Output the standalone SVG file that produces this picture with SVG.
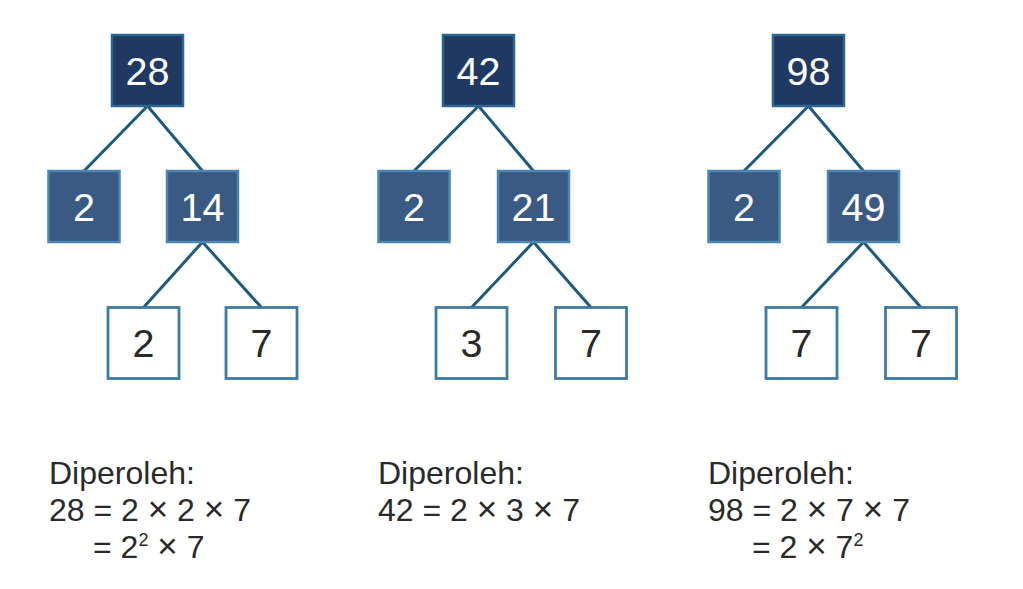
<svg xmlns="http://www.w3.org/2000/svg" width="1023" height="589" viewBox="0 0 1023 589">
<style>
.root{fill:#1f3963;stroke:#2b6790;stroke-width:2.5}
.mid{fill:#3a5a84;stroke:#4a87b1;stroke-width:2.5}
.leaf{fill:#ffffff;stroke:#3c7aa7;stroke-width:2.8}
.num{font-family:"Liberation Sans",Arial,sans-serif;font-size:39.5px;text-anchor:middle}
.w{fill:#ffffff}
.d{fill:#2a2a2a}
.conn line{stroke:#1d5a7e;stroke-width:3;stroke-linecap:round}
.txt{font-family:"Liberation Sans",Arial,sans-serif;font-size:32px;fill:#2a2a2a}
.sup{font-size:18px}
.x{font-size:35px}
</style>
<rect width="1023" height="589" fill="#ffffff"/>
<g id="connectors" class="conn">
<line x1="147.5" y1="106" x2="84" y2="171"/>
<line x1="147.5" y1="106" x2="202.5" y2="171"/>
<line x1="202.5" y1="242" x2="143.5" y2="307.5"/>
<line x1="202.5" y1="242" x2="261.5" y2="307.5"/>
<line x1="478.5" y1="106" x2="414" y2="171"/>
<line x1="478.5" y1="106" x2="533.5" y2="171"/>
<line x1="533.5" y1="242" x2="471.5" y2="307.5"/>
<line x1="533.5" y1="242" x2="591" y2="307.5"/>
<line x1="808.5" y1="106" x2="744" y2="171"/>
<line x1="808.5" y1="106" x2="863.5" y2="171"/>
<line x1="863.5" y1="242" x2="801.5" y2="307.5"/>
<line x1="863.5" y1="242" x2="921" y2="307.5"/>
</g>
<g id="t1-root"><rect class="root" x="112" y="35" width="71" height="71"/><text class="num w" x="147.5" y="84.5">28</text></g>
<g id="t1-a"><rect class="mid" x="48.5" y="171" width="71" height="71"/><text class="num w" x="84" y="220.5">2</text></g>
<g id="t1-b"><rect class="mid" x="167" y="171" width="71" height="71"/><text class="num w" x="202.5" y="220.5">14</text></g>
<g id="t1-c"><rect class="leaf" x="108" y="307.5" width="71" height="71"/><text class="num d" x="143.5" y="357">2</text></g>
<g id="t1-d"><rect class="leaf" x="226" y="307.5" width="71" height="71"/><text class="num d" x="261.5" y="357">7</text></g>

<g id="t2-root"><rect class="root" x="443" y="35" width="71" height="71"/><text class="num w" x="478.5" y="84.5">42</text></g>
<g id="t2-a"><rect class="mid" x="378.5" y="171" width="71" height="71"/><text class="num w" x="414" y="220.5">2</text></g>
<g id="t2-b"><rect class="mid" x="498" y="171" width="71" height="71"/><text class="num w" x="533.5" y="220.5">21</text></g>
<g id="t2-c"><rect class="leaf" x="436" y="307.5" width="71" height="71"/><text class="num d" x="471.5" y="357">3</text></g>
<g id="t2-d"><rect class="leaf" x="555.5" y="307.5" width="71" height="71"/><text class="num d" x="591" y="357">7</text></g>

<g id="t3-root"><rect class="root" x="773" y="35" width="71" height="71"/><text class="num w" x="808.5" y="84.5">98</text></g>
<g id="t3-a"><rect class="mid" x="708.5" y="171" width="71" height="71"/><text class="num w" x="744" y="220.5">2</text></g>
<g id="t3-b"><rect class="mid" x="828" y="171" width="71" height="71"/><text class="num w" x="863.5" y="220.5">49</text></g>
<g id="t3-c"><rect class="leaf" x="766" y="307.5" width="71" height="71"/><text class="num d" x="801.5" y="357">7</text></g>
<g id="t3-d"><rect class="leaf" x="885.5" y="307.5" width="71" height="71"/><text class="num d" x="921" y="357">7</text></g>

<g id="caption-1" class="txt">
<text x="49" y="484">Diperoleh:</text>
<text x="49" y="521">28 = 2 <tspan class="x">×</tspan> 2 <tspan class="x">×</tspan> 7</text>
<text x="93" y="558">= 2<tspan class="sup" dy="-12">2</tspan><tspan dy="12"> <tspan class="x">×</tspan> 7</tspan></text>
</g>
<g id="caption-2" class="txt">
<text x="378" y="484">Diperoleh:</text>
<text x="378" y="521">42 = 2 <tspan class="x">×</tspan> 3 <tspan class="x">×</tspan> 7</text>
</g>
<g id="caption-3" class="txt">
<text x="708" y="484">Diperoleh:</text>
<text x="708" y="521">98 = 2 <tspan class="x">×</tspan> 7 <tspan class="x">×</tspan> 7</text>
<text x="752" y="558">= 2 <tspan class="x">×</tspan> 7<tspan class="sup" dy="-12">2</tspan></text>
</g>
</svg>
